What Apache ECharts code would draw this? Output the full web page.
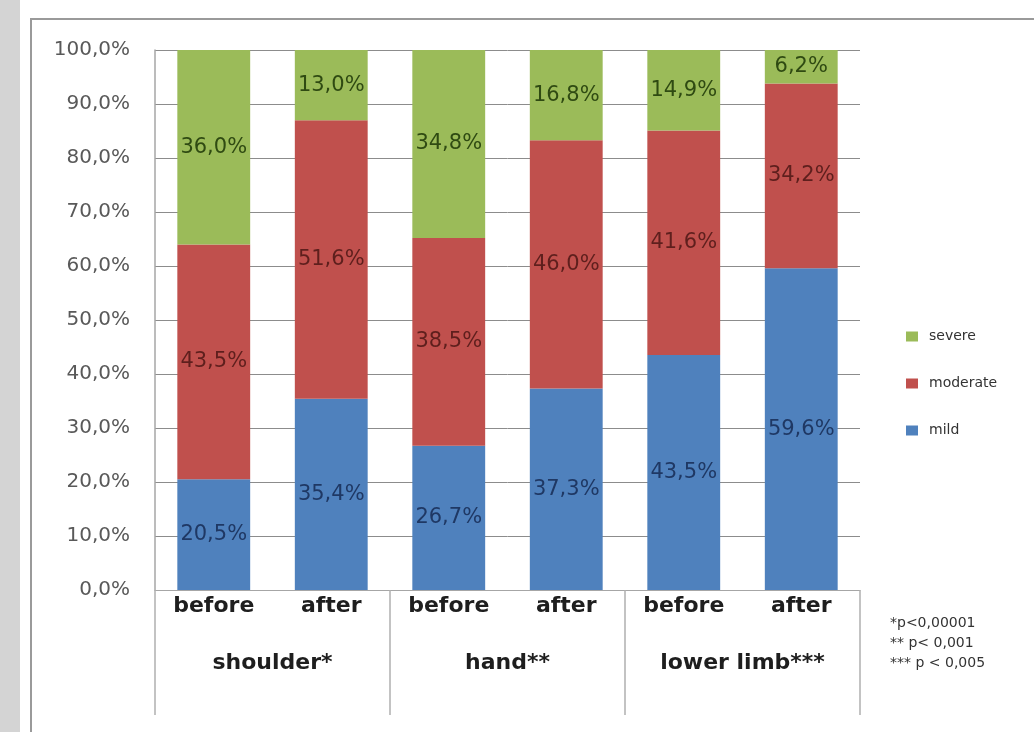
<!DOCTYPE html>
<html>
<head>
<meta charset="utf-8">
<style>
  html, body { margin: 0; padding: 0; background: #ffffff; }
  #chart { width: 1034px; height: 732px; }
</style>
<script src="https://cdn.jsdelivr.net/npm/echarts@6/dist/echarts.min.js"></script>
</head>
<body>
<div id="chart"></div>
<script>
// Severity of symptoms before and after treatment, per body region (percent of patients)
const phases = ['before', 'after', 'before', 'after', 'before', 'after'];
const regions = ['shoulder*', 'hand**', 'lower limb***'];
const mild     = [20.5, 35.4, 26.7, 37.3, 43.5, 59.6];
const moderate = [43.5, 51.6, 38.5, 46.0, 41.6, 34.2];
const severe   = [36.0, 13.0, 34.8, 16.8, 14.9, 6.2];
const yTicks = [0, 10, 20, 30, 40, 50, 60, 70, 80, 90, 100];
const footnotes = ['*p<0,00001', '** p< 0,001', '*** p < 0,005'];

const pct = v => v.toFixed(1).replace('.', ',') + '%';

function stackSeries(name, data, color, labelColor) {
  return {
    name: name,
    type: 'bar',
    stack: 'total',
    data: data,
    barWidth: '62%',
    itemStyle: { color: color },
    label: {
      show: true,
      position: 'inside',
      formatter: p => pct(p.value),
      fontFamily: 'DejaVu Sans',
      fontSize: 21,
      color: labelColor
    }
  };
}

const chart = echarts.init(document.getElementById('chart'), null, { renderer: 'canvas' });

chart.setOption({
  backgroundColor: '#ffffff',
  animation: false,
  grid: { left: 155, top: 50, right: 174, bottom: 142 },
  legend: {
    data: ['severe', 'moderate', 'mild'],
    orient: 'vertical',
    left: 901,
    top: 323,
    itemWidth: 12,
    itemHeight: 10,
    itemGap: 30,
    icon: 'rect',
    textStyle: {
      fontFamily: 'DejaVu Sans',
      fontSize: 14,
      color: '#333333',
      lineHeight: 17,
      padding: [0, 0, 0, 6]
    }
  },
  xAxis: [
    {
      type: 'category',
      data: phases,
      position: 'bottom',
      axisLine: { show: true, lineStyle: { color: '#a6a6a6', width: 1 } },
      axisTick: { show: false },
      axisLabel: {
        interval: 0,
        margin: 5,
        fontFamily: 'DejaVu Sans',
        fontWeight: 'bold',
        fontSize: 22,
        color: '#1e1e1e'
      },
      splitLine: { show: false }
    },
    {
      type: 'category',
      data: regions,
      position: 'bottom',
      axisLine: { show: false },
      axisTick: {
        show: true,
        interval: 0,
        length: 125,
        lineStyle: { color: '#b0b0b0', width: 1.5 }
      },
      axisLabel: {
        interval: 0,
        margin: 62,
        fontFamily: 'DejaVu Sans',
        fontWeight: 'bold',
        fontSize: 22,
        color: '#1e1e1e'
      },
      splitLine: { show: false }
    }
  ],
  yAxis: {
    type: 'value',
    min: yTicks[0],
    max: yTicks[yTicks.length - 1],
    interval: yTicks[1] - yTicks[0],
    axisLine: { show: true, lineStyle: { color: '#a6a6a6', width: 1.5 } },
    axisTick: { show: false },
    axisLabel: {
      margin: 25,
      formatter: v => pct(v),
      fontFamily: 'DejaVu Sans',
      fontSize: 20,
      color: '#595959'
    },
    splitLine: { show: true, lineStyle: { color: '#8c8c8c', width: 1 } }
  },
  series: [
    stackSeries('mild', mild, '#4f81bd', '#1f3864'),
    stackSeries('moderate', moderate, '#c0504d', '#5e1f1d'),
    stackSeries('severe', severe, '#9bbb59', '#2f4a12')
  ],
  graphic: [
    {
      type: 'rect',
      left: 0, top: 0, z: -10,
      shape: { x: 0, y: 0, width: 20, height: 732 },
      style: { fill: '#d4d4d4' }
    },
    {
      type: 'rect',
      z: -5,
      shape: { x: 31, y: 19, width: 1100, height: 800 },
      style: { fill: 'none', stroke: '#9a9a9a', lineWidth: 2 }
    },
    {
      type: 'text',
      left: 890,
      top: 613,
      style: {
        text: footnotes.join('\n'),
        fontFamily: 'DejaVu Sans',
        fontSize: 14,
        lineHeight: 20,
        fill: '#333333'
      }
    }
  ]
});
</script>
</body>
</html>
